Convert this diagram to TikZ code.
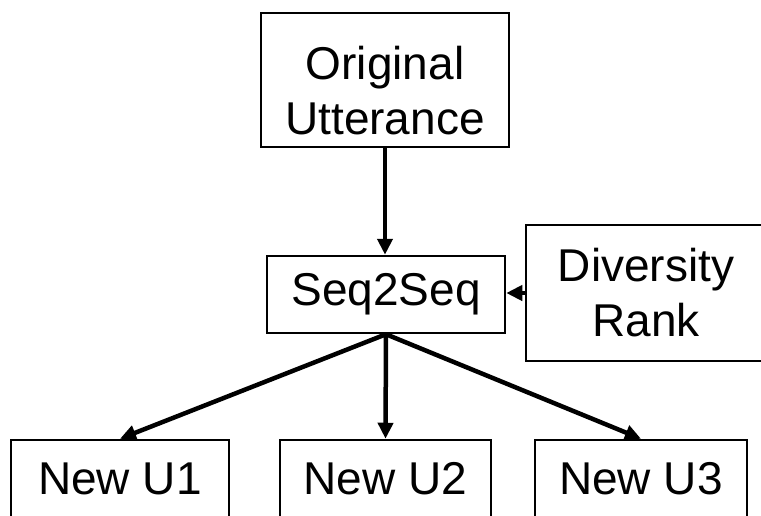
\documentclass[tikz,border=0pt]{standalone}
\usepackage{fontspec}
\setmainfont{Liberation Sans}
\usetikzlibrary{arrows.meta}
\begin{document}
\begin{tikzpicture}[x=1pt,y=-1pt,
  box/.style={draw=black, line width=2.5pt, rectangle, inner sep=0pt, align=center,
    font=\fontsize{46}{55}\selectfont},
  conn/.style={draw=black, line width=4.5pt, -{Triangle[length=16pt,width=15pt]}}]
\useasboundingbox (0,0) rectangle (761,515);
\clip (0,0) rectangle (761,515);
\node[box, minimum width=248pt, minimum height=134pt] (orig) at (385,80) {\rule{0pt}{55pt}Original\\Utterance};
\node[box, minimum width=238pt, minimum height=77pt] (seq) at (386,294.5) {Seq2Seq};
\node[box, minimum width=240pt, minimum height=136pt] (div) at (646,293) {Diversity\\Rank};
\node[box, minimum width=218pt, minimum height=78pt] (u1) at (120,479) {New U1};
\node[box, minimum width=211pt, minimum height=78pt] (u2) at (385.5,479) {New U2};
\node[box, minimum width=212pt, minimum height=78pt] (u3) at (641,479) {New U3};
\draw[conn] (orig.south) -- (orig.south |- seq.north);
\draw[conn] (div.west) -- (seq.east |- div.west);
\draw[conn] (seq.south) -- (u1.north);
\draw[conn] (seq.south) -- (u2.north);
\draw[conn] (seq.south) -- (u3.north);
\end{tikzpicture}
\end{document}
